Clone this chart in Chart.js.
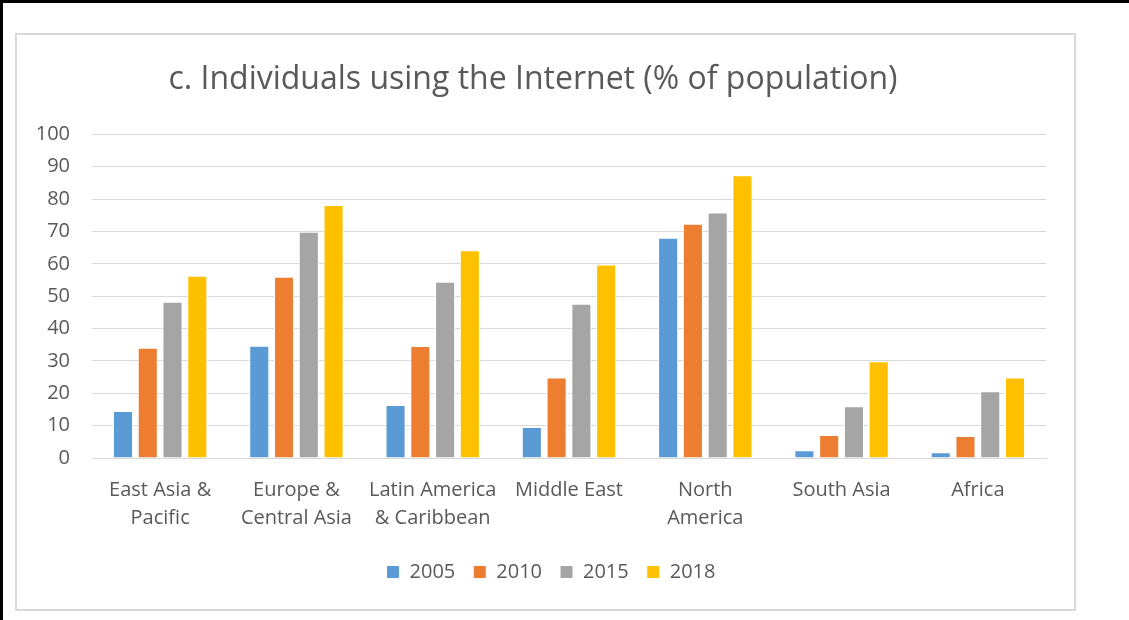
<!DOCTYPE html>
<html>
<head>
<meta charset="utf-8">
<script src="https://cdn.jsdelivr.net/npm/chart.js@4/dist/chart.umd.min.js"></script>
<style>
  body { margin: 0; background: #fff; }
  #frame { position: absolute; left: 0; top: 0; width: 1129px; height: 620px;
           border-top: 3px solid #000; border-left: 3px solid #000; box-sizing: border-box; }
  #box { position: absolute; left: 15px; top: 33px; width: 1061px; height: 578px;
         border: 2px solid #d9d9d9; box-sizing: border-box; }
  canvas { position: absolute; left: 0; top: 0; }
</style>
</head>
<body>
<div id="frame"></div>
<div id="box"></div>
<canvas id="internetUsers" width="1129" height="620"></canvas>
<script>
const regions = [
  ["East Asia &", "Pacific"],
  ["Europe &", "Central Asia"],
  ["Latin America", "& Caribbean"],
  ["Middle East"],
  ["North", "America"],
  ["South Asia"],
  ["Africa"],
];

const years = ["2005", "2010", "2015", "2018"];

const values2005 = [14.5, 34.7, 16.4, 9.6, 68.1, 2.4, 1.8];
const values2010 = [34.1, 56.0, 34.6, 24.9, 72.4, 7.1, 6.8];
const values2015 = [48.3, 69.9, 54.5, 47.7, 75.9, 16.0, 20.6];
const values2018 = [56.3, 78.2, 64.2, 59.8, 87.4, 29.9, 24.9];

const yTicks = [0, 10, 20, 30, 40, 50, 60, 70, 80, 90, 100];

const color = ["#5B9BD5", "#ED7D31", "#A5A5A5", "#FFC000"];

const series = [values2005, values2010, values2015, values2018];

const fontFamily = "'Open Sans', 'Noto Sans', sans-serif";
const textColor = "#595959";

// legend sits a bit right of the plot centre in the original
const legendShift = {
  id: "legendShift",
  afterLayout(chart) {
    chart.legend.left += 18;
    chart.legend.right += 18;
  },
};

new Chart(document.getElementById("internetUsers"), {
  type: "bar",
  data: {
    labels: regions,
    datasets: series.map((values, i) => ({
      label: years[i],
      data: values,
      backgroundColor: color[i],
      borderColor: "#ffffff",
      borderWidth: 1,
      categoryPercentage: 0.727,
      barPercentage: 0.81,
    })),
  },
  plugins: [legendShift],
  options: {
    responsive: false,
    animation: false,
    layout: {
      padding: { left: 20, right: 83, top: 35, bottom: 28 },
    },
    plugins: {
      title: {
        display: true,
        text: "c. Individuals using the Internet (% of population)",
        color: textColor,
        font: { family: fontFamily, size: 32, weight: "normal" },
        padding: { top: 26, bottom: 35 },
      },
      legend: {
        position: "bottom",
        labels: {
          color: textColor,
          font: { family: fontFamily, size: 20 },
          boxWidth: 13,
          boxHeight: 13,
          padding: 18,
        },
      },
      tooltip: { enabled: false },
    },
    scales: {
      x: {
        grid: { display: false },
        border: { display: true, color: "#d9d9d9", width: 1 },
        ticks: {
          color: textColor,
          font: { family: fontFamily, size: 20, lineHeight: "28px" },
          padding: 10,
          maxRotation: 0,
          autoSkip: false,
        },
        afterFit: (scale) => {
          scale.height = 86;
        },
      },
      y: {
        min: 0,
        max: 100,
        afterBuildTicks: (scale) => {
          scale.ticks = yTicks.map((v) => ({ value: v }));
        },
        grid: { color: "#d9d9d9", lineWidth: 1, drawTicks: false },
        border: { display: false },
        ticks: {
          color: textColor,
          font: { family: fontFamily, size: 20 },
          padding: 22,
        },
        afterFit: (scale) => {
          scale.width = 72;
        },
      },
    },
  },
});
</script>
</body>
</html>
